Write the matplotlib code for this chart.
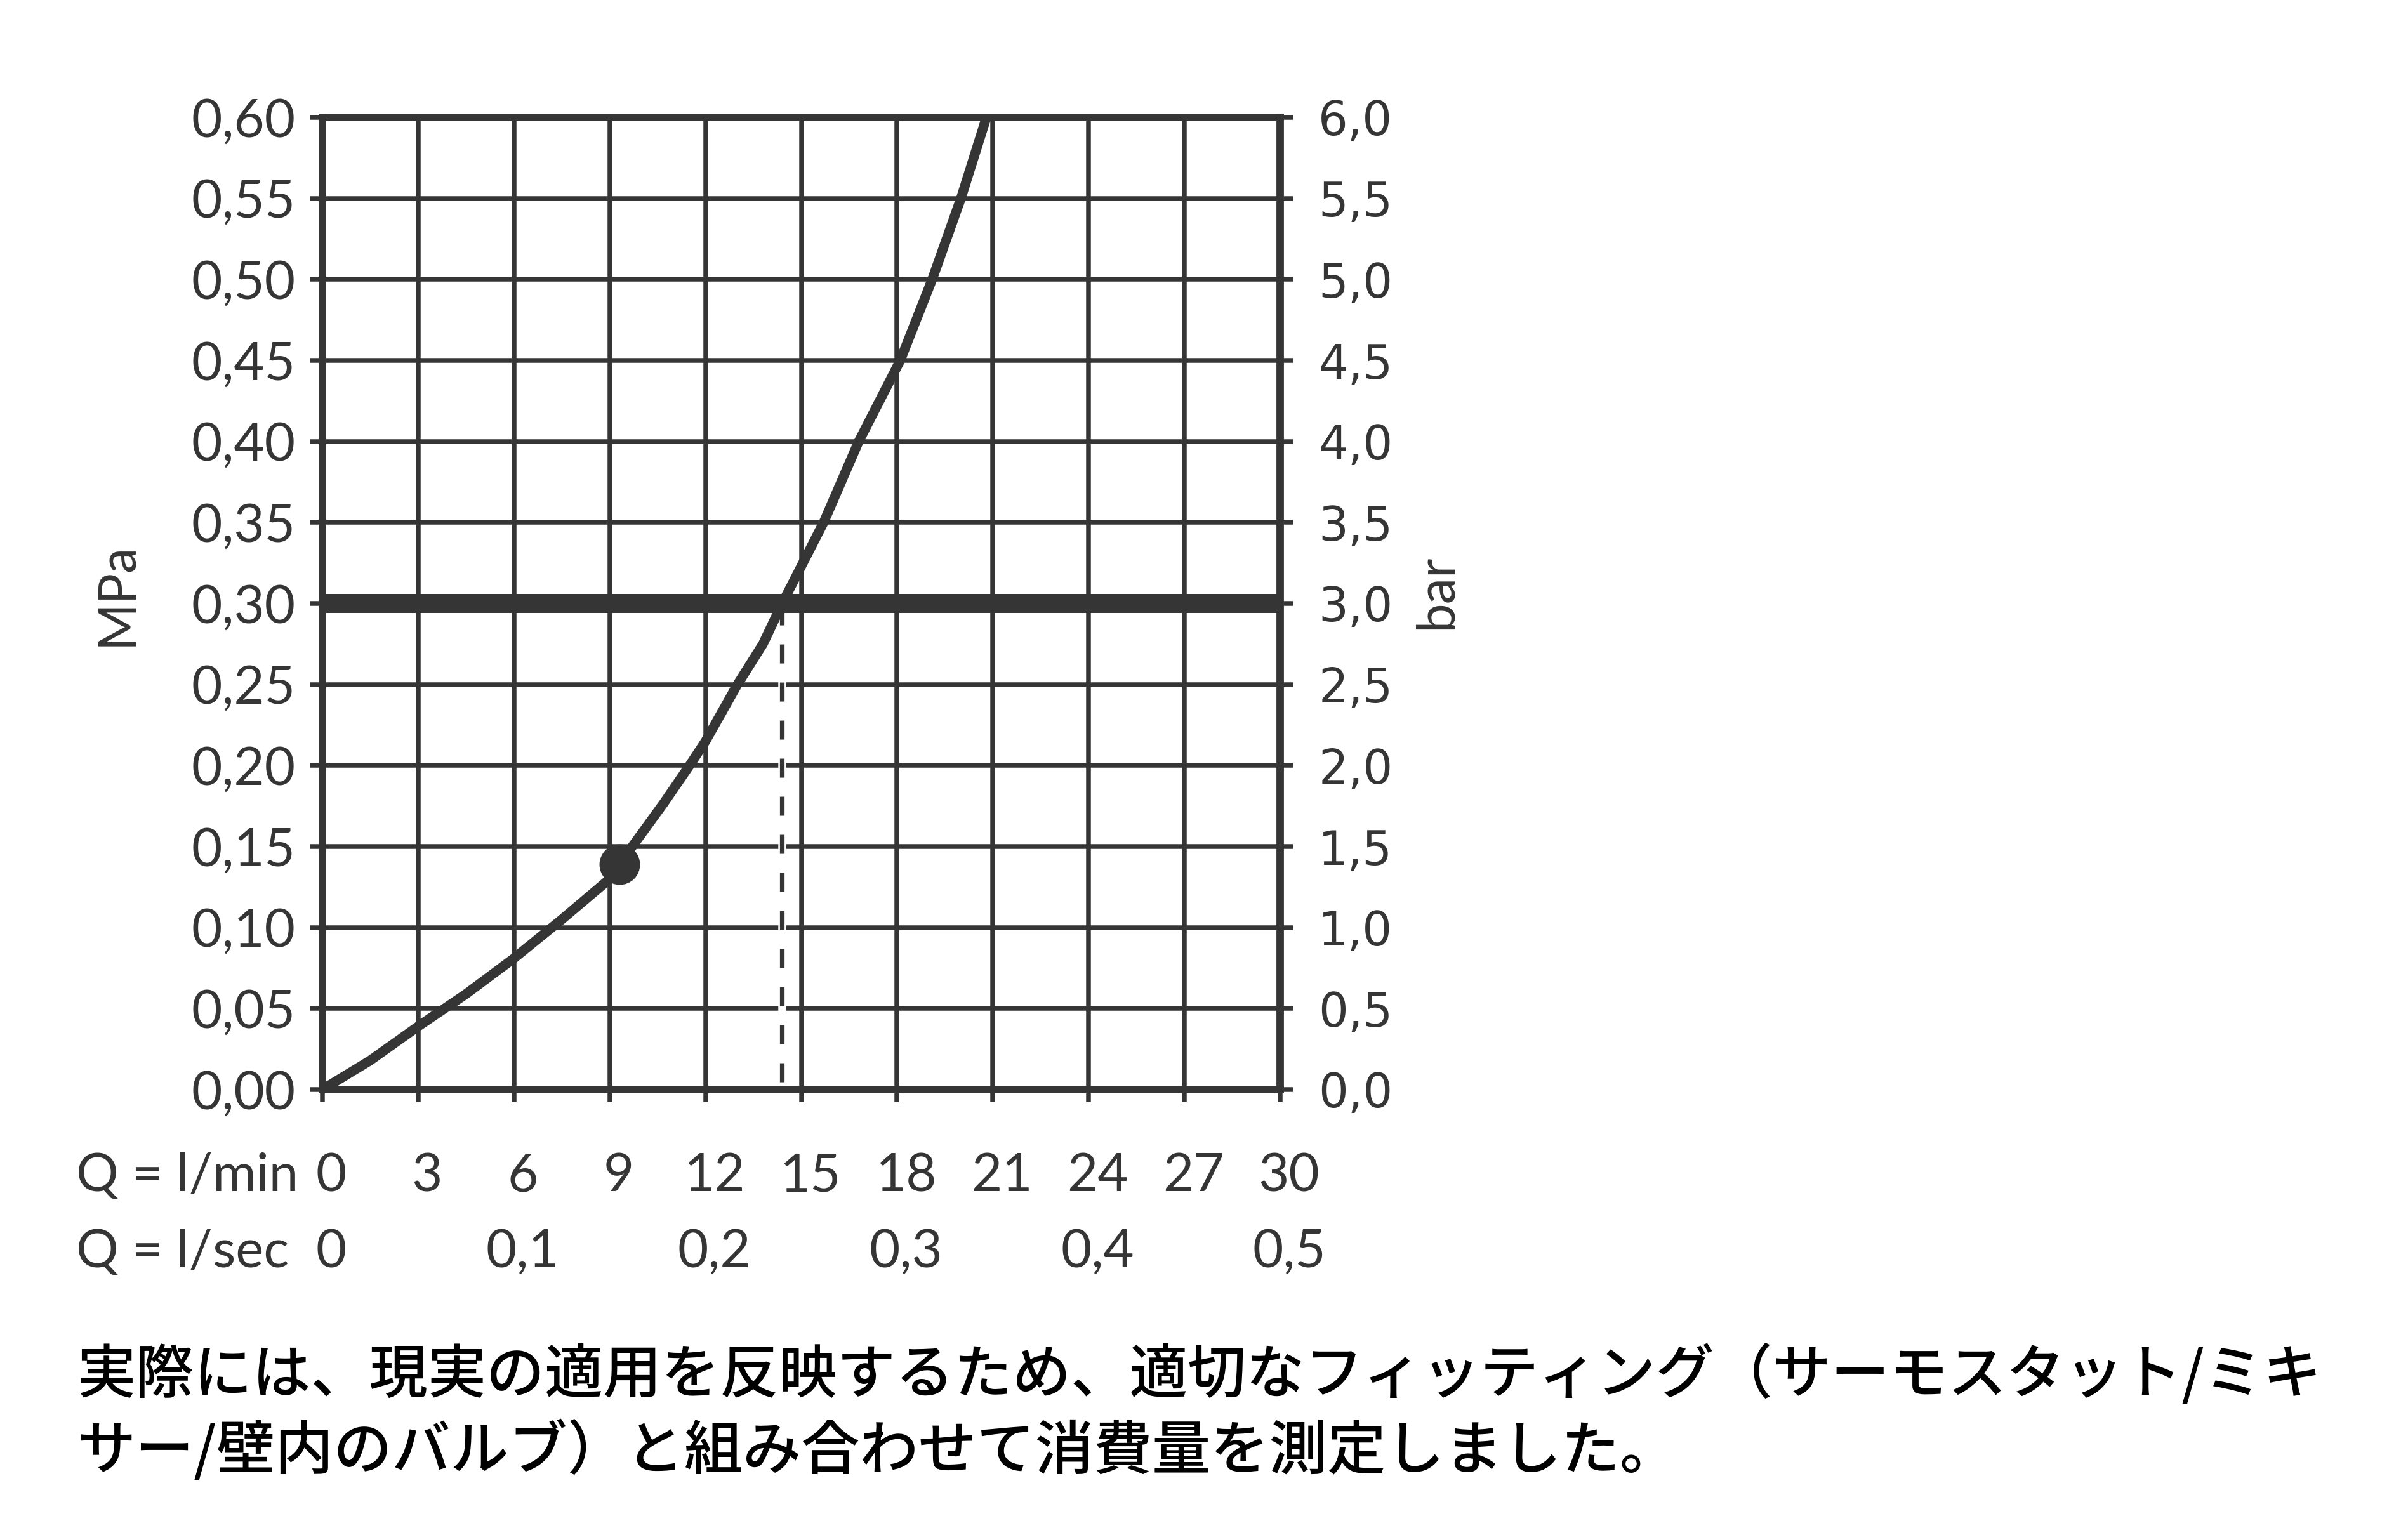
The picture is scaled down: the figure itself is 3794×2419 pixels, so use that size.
import matplotlib
matplotlib.use('Agg')
import matplotlib.pyplot as plt
from matplotlib import transforms

# flow rate (l/min) vs pressure (MPa)
flow_lmin = [0, 1.5, 3, 4.5, 6, 7.5, 9, 9.3, 10.7, 11.5, 12, 13.0, 13.8, 14.4,
             15, 15.7, 16.8, 18.1, 19.1, 20.0, 20.8]
pressure_mpa = [0, 0.018, 0.039, 0.059, 0.081, 0.105, 0.130, 0.139, 0.177, 0.20,
                0.215, 0.25, 0.275, 0.30, 0.323, 0.35, 0.40, 0.45, 0.50, 0.55, 0.60]

# marked point and the 3 bar reference
dot_flow = [9.3]
dot_pressure = [0.139]
ref_flow = 14.4
ref_pressure = 0.30

mpa_ticks = [0, 0.05, 0.10, 0.15, 0.20, 0.25, 0.30, 0.35, 0.40, 0.45, 0.50, 0.55, 0.60]
mpa_labels = ['0,00', '0,05', '0,10', '0,15', '0,20', '0,25', '0,30', '0,35',
              '0,40', '0,45', '0,50', '0,55', '0,60']
bar_ticks = [0, 0.5, 1, 1.5, 2, 2.5, 3, 3.5, 4, 4.5, 5, 5.5, 6]
bar_labels = ['0,0', '0,5', '1,0', '1,5', '2,0', '2,5', '3,0', '3,5',
              '4,0', '4,5', '5,0', '5,5', '6,0']
lmin_ticks = [0, 3, 6, 9, 12, 15, 18, 21, 24, 27, 30]
lmin_labels = ['0', '3', '6', '9', '12', '15', '18', '21', '24', '27', '30']
lsec_pos = [0, 6, 12, 18, 24, 30]
lsec_labels = ['0', '0,1', '0,2', '0,3', '0,4', '0,5']

note_lines = ['実際には、現実の適用を反映するため、適切なフィッティング（サーモスタット/ミキ',
              'サー/壁内のバルブ）と組み合わせて消費量を測定しました。']

W, H = 3794, 2419
ink = '#353535'
plt.rcParams['lines.scale_dashes'] = False


def fx(px):
    return px / W


def fy(py):
    return 1 - py / H


fig = plt.figure(figsize=(W / 100, H / 100), dpi=100)
ax = fig.add_axes([fx(508), fy(1717), fx(2017) - fx(508), fy(185) - fy(1717)])
ax.set_xlim(0, 30)
ax.set_ylim(0, 0.6)

ax.set_xticks(lmin_ticks)
ax.set_xticklabels([])
ax.set_yticks(mpa_ticks)
ax.set_yticklabels(mpa_labels, fontfamily='Lato', fontsize=60, color=ink)
ax.tick_params(axis='both', direction='out', length=14.4, width=5.4, color=ink)
ax.tick_params(axis='y', pad=16)
ax.grid(True, color=ink, lw=5.4)
ax.set_axisbelow(True)
for sp in ax.spines.values():
    sp.set_linewidth(8.5)
    sp.set_color(ink)

# right hand bar scale
ax2 = ax.twinx()
ax2.set_ylim(0, 6)
ax2.set_yticks(bar_ticks)
ax2.set_yticklabels(bar_labels, fontfamily='DejaVu Sans', fontsize=53, color=ink)
ax2.tick_params(direction='out', length=14.4, width=5.4, color=ink, pad=29)
for sp in ax2.spines.values():
    sp.set_visible(False)

# dashed drop line with a white halo
ax.plot([ref_flow, ref_flow], [0, ref_pressure], color='white', lw=9, zorder=1.5)
ax.plot([ref_flow, ref_flow], [0, ref_pressure], color=ink, lw=5.2,
        linestyle=(34.6, (21.6, 21.6)), zorder=1.8)
ax.axhline(ref_pressure, color=ink, lw=21.6, zorder=2.2)

ax.plot(flow_lmin, pressure_mpa, color=ink, lw=11, zorder=3, solid_joinstyle='round')
ax.plot(dot_flow, dot_pressure, 'o', ms=45, color=ink, zorder=4)

# bottom scale rows
base = transforms.blended_transform_factory(ax.transData, fig.transFigure)
shifted = transforms.offset_copy(base, fig=fig, x=14, y=0, units='dots')
for pos, lab in zip(lmin_ticks, lmin_labels):
    ax.text(pos, fy(1877), lab, transform=shifted, ha='center', va='baseline',
            fontfamily='Lato', fontsize=60, color=ink)
for pos, lab in zip(lsec_pos, lsec_labels):
    ax.text(pos, fy(1997), lab, transform=shifted, ha='center', va='baseline',
            fontfamily='Lato', fontsize=60, color=ink)
fig.text(fx(120), fy(1877), 'Q = l/min', ha='left', va='baseline',
         fontfamily='Lato', fontsize=60, color=ink)
fig.text(fx(120), fy(1997), 'Q = l/sec', ha='left', va='baseline',
         fontfamily='Lato', fontsize=60, color=ink)

fig.text(fx(184), fy(936), 'MPa', rotation=90, ha='center', va='center',
         fontfamily='Lato', fontsize=58, color=ink)
fig.text(fx(2264), fy(933), 'bar', rotation=90, ha='center', va='center',
         fontfamily='Lato', fontsize=60, color=ink)

fig.text(fx(121), fy(2195), note_lines[0], ha='left', va='baseline', fontsize=66.3,
         family=['Noto Sans CJK JP', 'DejaVu Sans'], weight='medium', color='black')
fig.text(fx(121), fy(2315), note_lines[1], ha='left', va='baseline', fontsize=66.3,
         family=['Noto Sans CJK JP', 'DejaVu Sans'], weight='medium', color='black')

fig.savefig('out.png', dpi=100)
